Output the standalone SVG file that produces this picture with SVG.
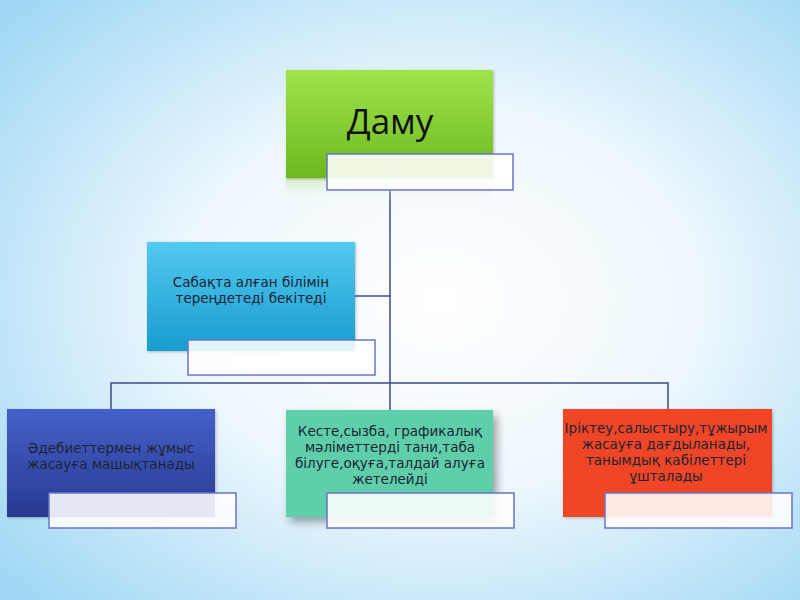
<svg xmlns="http://www.w3.org/2000/svg" width="800" height="600" viewBox="0 0 800 600">
<defs>
<radialGradient id="bg" cx="0.55" cy="0.5" r="0.72">
<stop offset="0" stop-color="#ffffff"/>
<stop offset="0.45" stop-color="#edf7fd"/>
<stop offset="1" stop-color="#9fd7f4"/>
</radialGradient>
<linearGradient id="gGreen" x1="0" y1="0" x2="0" y2="1">
<stop offset="0" stop-color="#a0e44c"/>
<stop offset="1" stop-color="#6cb81f"/>
</linearGradient>
<linearGradient id="gRefl" x1="0" y1="0" x2="0" y2="1">
<stop offset="0" stop-color="#b5e08a" stop-opacity="0.5"/>
<stop offset="1" stop-color="#ffffff" stop-opacity="0"/>
</linearGradient>
<linearGradient id="gCyan" x1="0" y1="0" x2="0" y2="1">
<stop offset="0" stop-color="#52c9f0"/>
<stop offset="1" stop-color="#189ccf"/>
</linearGradient>
<linearGradient id="gBlue" x1="0" y1="0" x2="0" y2="1">
<stop offset="0" stop-color="#4461c9"/>
<stop offset="1" stop-color="#283991"/>
</linearGradient>
<filter id="sh" x="-20%" y="-20%" width="150%" height="160%">
<feDropShadow dx="4" dy="5" stdDeviation="4" flood-color="#000" flood-opacity="0.35"/>
</filter>
<filter id="sh2" x="-20%" y="-20%" width="150%" height="160%">
<feDropShadow dx="1" dy="1" stdDeviation="1.5" flood-color="#000" flood-opacity="0.25"/>
</filter>
</defs>
<style>
.lbl{fill:#ffffff;fill-opacity:0.88;stroke:#6a74c6;stroke-width:1.5}
.t{font-family:"DejaVu Sans","Noto Sans",sans-serif;font-size:13.5px;fill:#1c2433;text-anchor:middle}
.conn{fill:none;stroke:#3f4a8c;stroke-width:1.5}
</style>
<rect x="0" y="0" width="800" height="600" fill="url(#bg)"/>
<g id="connectors">
<path class="conn" d="M390 190 V383"/>
<path class="conn" d="M355 296 H390"/>
<path class="conn" d="M111 409 V383 H668 V409"/>
<path class="conn" d="M390 383 V410"/>
</g>
<g id="node-damu">
<rect x="286" y="178" width="207" height="26" fill="url(#gRefl)"/>
<rect x="286" y="70" width="207" height="108" fill="url(#gGreen)" filter="url(#sh2)"/>
<text x="390" y="134" font-family="'Open Sans','DejaVu Sans',sans-serif" font-size="35" fill="#111" text-anchor="middle">Даму</text>
<rect class="lbl" x="327" y="154" width="186" height="36"/>
</g>
<g id="node-sabak">
<rect x="147" y="242" width="208" height="109" fill="url(#gCyan)" filter="url(#sh2)"/>
<text class="t" x="251" y="287">Сабақта алған білімін</text>
<text class="t" x="251" y="303">тереңдетеді бекітеді</text>
<rect class="lbl" x="188" y="340" width="187" height="35"/>
</g>
<g id="node-adebiet">
<rect x="7" y="409" width="208" height="108" fill="url(#gBlue)" filter="url(#sh2)"/>
<text class="t" x="111" y="453">Әдебиеттермен жұмыс</text>
<text class="t" x="111" y="469">жасауға машықтанады</text>
<rect class="lbl" x="49" y="493" width="187" height="35"/>
</g>
<g id="node-keste">
<rect x="286" y="410" width="207" height="107" fill="#5ecfab" filter="url(#sh)"/>
<text class="t" x="390" y="436">Кесте,сызба, графикалық</text>
<text class="t" x="390" y="452">мәліметтерді тани,таба</text>
<text class="t" x="390" y="468">білуге,оқуға,талдай алуға</text>
<text class="t" x="390" y="484">жетелейді</text>
<rect class="lbl" x="327" y="493" width="187" height="35"/>
</g>
<g id="node-iriktey">
<rect x="563" y="409" width="209" height="108" fill="#f04428" filter="url(#sh2)"/>
<text class="t" x="666" y="433">Іріктеу,салыстыру,тұжырым</text>
<text class="t" x="666" y="449">жасауға дағдыланады,</text>
<text class="t" x="666" y="465">танымдық кабілеттері</text>
<text class="t" x="666" y="481">ұшталады</text>
<rect class="lbl" x="605" y="493" width="187" height="35"/>
</g>
</svg>
